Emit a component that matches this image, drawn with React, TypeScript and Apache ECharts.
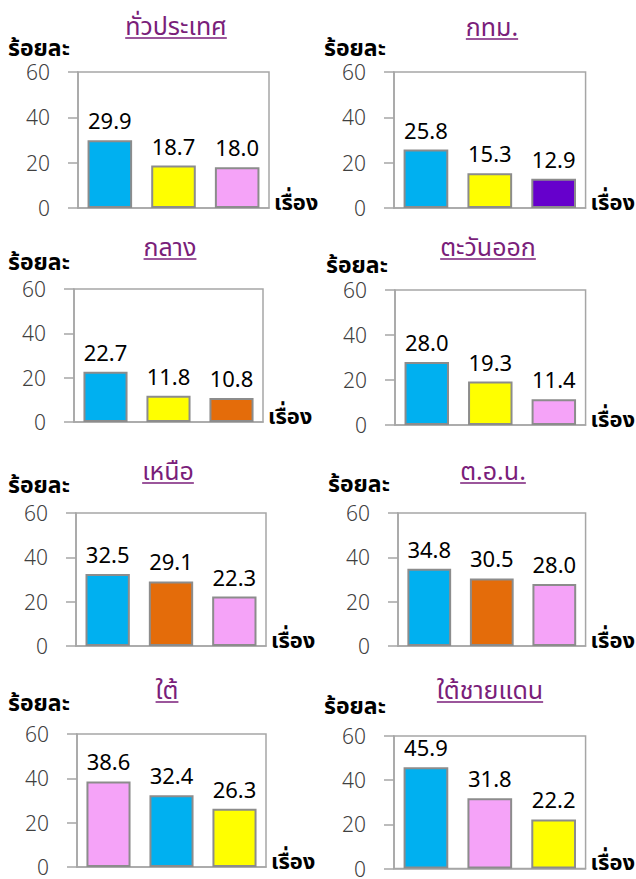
import React, { useEffect, useRef } from "react";
import * as echarts from "echarts";

// ---- data ----
const regionNames = ["ทั่วประเทศ", "กทม.", "กลาง", "ตะวันออก", "เหนือ", "ต.อ.น.", "ใต้", "ใต้ชายแดน"];

// topic of each bar (colour identifies the topic)
const wholeKingdomTopics = ["T1", "T2", "T3"];
const bangkokTopics = ["T1", "T2", "T5"];
const centralTopics = ["T1", "T2", "T4"];
const easternTopics = ["T1", "T2", "T3"];
const northernTopics = ["T1", "T4", "T3"];
const northeasternTopics = ["T1", "T4", "T3"];
const southernTopics = ["T3", "T1", "T2"];
const deepSouthTopics = ["T1", "T3", "T2"];

const wholeKingdomValues = [29.9, 18.7, 18.0];
const bangkokValues = [25.8, 15.3, 12.9];
const centralValues = [22.7, 11.8, 10.8];
const easternValues = [28.0, 19.3, 11.4];
const northernValues = [32.5, 29.1, 22.3];
const northeasternValues = [34.8, 30.5, 28.0];
const southernValues = [38.6, 32.4, 26.3];
const deepSouthValues = [45.9, 31.8, 22.2];

const yTicks = [0, 20, 40, 60];
const yAxisTitle = "ร้อยละ";
const xAxisTitle = "เรื่อง";

const allTopics = [wholeKingdomTopics, bangkokTopics, centralTopics, easternTopics, northernTopics, northeasternTopics, southernTopics, deepSouthTopics];
const allValues = [wholeKingdomValues, bangkokValues, centralValues, easternValues, northernValues, northeasternValues, southernValues, deepSouthValues];

// ---- styles / layout ----
const topicColors: Record<string, string> = {
  T1: "#00B0F0",
  T2: "#FFFF00",
  T3: "#F5A3F8",
  T4: "#E46C0A",
  T5: "#6600CC",
};

// plot area boxes: left, top, width, height
const grids = [
  { left: 78, top: 72, width: 191, height: 136 },
  { left: 394, top: 72, width: 194, height: 136 },
  { left: 74, top: 289, width: 189, height: 133 },
  { left: 395, top: 290, width: 196, height: 135 },
  { left: 76, top: 513, width: 190, height: 133 },
  { left: 398, top: 513, width: 189, height: 133 },
  { left: 77, top: 734, width: 189, height: 133 },
  { left: 394, top: 736, width: 194, height: 135 },
];
// title centre and y, "ร้อยละ" position
const titlePos = [
  { x: 176, y: 27, yl: 50, xl: 8 },
  { x: 492, y: 28, yl: 50, xl: 324 },
  { x: 170, y: 248, yl: 264, xl: 8 },
  { x: 488, y: 248, yl: 267, xl: 326 },
  { x: 168, y: 472, yl: 487, xl: 8 },
  { x: 493, y: 472, yl: 486, xl: 328 },
  { x: 167, y: 691, yl: 705, xl: 8 },
  { x: 490, y: 691, yl: 708, xl: 324 },
];

const THAI_FONT = "Tahoma, 'Noto Sans Thai', 'Leelawadee UI', Loma, Garuda, 'Noto Sans', sans-serif";
const NUM_FONT = "'Noto Sans', Tahoma, sans-serif";
const TITLE_SIZE = 25;
const TITLE_COLOR = "#7A1E7A";

function measure(text: string, font: string): number {
  const c = document.createElement("canvas").getContext("2d");
  if (!c) return text.length * 10;
  c.font = font;
  return c.measureText(text).width;
}

export default function App() {
  const ref = useRef<HTMLDivElement>(null);
  useEffect(() => {
    if (!ref.current) return;
    const chart = echarts.init(ref.current, undefined, { renderer: "svg" });
    const graphic: any[] = [];
    regionNames.forEach((name, i) => {
      const p = titlePos[i];
      graphic.push({
        type: "text",
        x: p.x,
        y: p.y,
        style: {
          text: name,
          font: `${TITLE_SIZE}px ${THAI_FONT}`,
          fill: TITLE_COLOR,
          align: "center",
          verticalAlign: "middle",
        },
      });
      const w = measure(name, `${TITLE_SIZE}px ${THAI_FONT}`);
      graphic.push({
        type: "line",
        shape: { x1: p.x - w / 2, y1: p.y + 11, x2: p.x + w / 2, y2: p.y + 11 },
        style: { stroke: TITLE_COLOR, lineWidth: 1.5 },
      });
      graphic.push({
        type: "text",
        x: p.xl,
        y: p.yl - 1,
        style: {
          text: yAxisTitle,
          font: `bold 23px ${THAI_FONT}`,
          fill: "#000",
          align: "left",
          verticalAlign: "middle",
          lineHeight: 20,
        },
      });
    });

    const option: any = {
      animation: false,
      backgroundColor: "#fff",
      grid: grids.map((g) => ({
        ...g,
        show: true,
        borderColor: "#A6A6A6",
        borderWidth: 1.5,
        backgroundColor: "transparent",
        containLabel: false,
      })),
      xAxis: grids.map((_, i) => ({
        type: "category",
        gridIndex: i,
        data: allTopics[i],
        axisLine: { show: true, lineStyle: { color: "#A6A6A6", width: 1.5 } },
        axisTick: { show: false },
        axisLabel: { show: false },
        name: xAxisTitle,
        nameLocation: "end",
        nameGap: 5,
        nameTextStyle: {
          fontFamily: THAI_FONT,
          fontSize: 22,
          fontWeight: "bold",
          color: "#000",
          verticalAlign: "bottom",
          padding: [0, 0, -6, 0],
        },
      })),
      yAxis: grids.map((_, i) => ({
        type: "value",
        gridIndex: i,
        min: yTicks[0],
        max: yTicks[yTicks.length - 1],
        interval: yTicks[1] - yTicks[0],
        axisLine: { show: true, lineStyle: { color: "#A6A6A6", width: 1.5 } },
        axisTick: { show: true, inside: false, length: 10, lineStyle: { color: "#A6A6A6", width: 1.5 } },
        splitLine: { show: false },
        axisLabel: {
          margin: 28,
          fontFamily: NUM_FONT,
          fontSize: 21,
          lineHeight: 16,
          fontWeight: 300,
          color: "#404040",
        },
      })),
      series: grids.map((_, i) => ({
        type: "bar",
        xAxisIndex: i,
        yAxisIndex: i,
        barWidth: "70%",
        data: allValues[i].map((v, j) => ({
          value: v,
          itemStyle: { color: topicColors[allTopics[i][j]] },
        })),
        itemStyle: { borderColor: "#8C8C8C", borderWidth: 2 },
        label: {
          show: true,
          position: "top",
          distance: 9,
          fontFamily: NUM_FONT,
          fontSize: 22,
          color: "#000",
          formatter: (p: any) => Number(p.value).toFixed(1),
        },
      })),
      graphic,
    };
    chart.setOption(option);
    return () => chart.dispose();
  }, []);
  return <div ref={ref} style={{ position: "fixed", left: 0, top: 0, width: 636, height: 879 }} />;
}
